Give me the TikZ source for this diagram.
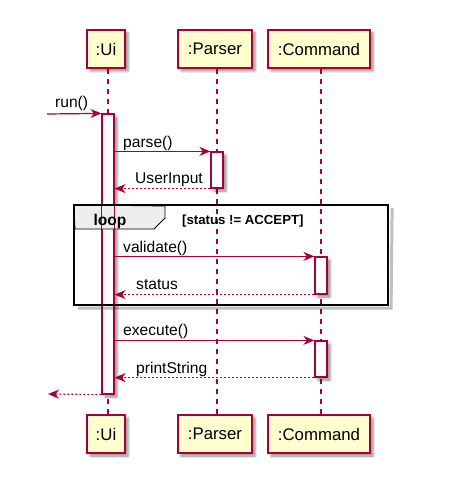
\documentclass[tikz,border=0pt]{standalone}
\usepackage{fontspec}
\setmainfont{Liberation Sans}
\usetikzlibrary{arrows.meta,shadows.blur}
\definecolor{pred}{HTML}{A80036}
\definecolor{pfill}{HTML}{FEFECE}
\definecolor{tabgray}{HTML}{EEEEEE}
\tikzset{
  shad/.style={blur shadow={shadow xshift=3pt,shadow yshift=-3pt,shadow blur radius=2.5pt,shadow opacity=45}},
  part/.style={draw=pred,line width=1.6pt,fill=pfill,shad,minimum height=38pt,inner sep=0pt,font=\fontsize{16.8}{18}\selectfont,text=black},
  actbox/.style={draw=pred,line width=1.2pt,fill=white,shad,minimum width=12pt,inner sep=0pt},
  lifeline/.style={draw=pred,line width=1.2pt,dash pattern=on 5pt off 5pt},
  msg/.style={draw=pred,line width=1.2pt,-{Stealth[length=11pt,width=9pt,inset=3.5pt]}},
  ret/.style={msg,dash pattern=on 2pt off 2pt},
  lbl/.style={font=\fontsize{15.6}{17}\selectfont,inner sep=0pt,anchor=base west,text=black},
}
\begin{document}
\begin{tikzpicture}[x=1pt,y=-1pt]
\useasboundingbox (0,0) rectangle (464,478);
% participants
\node[part,minimum width=38pt] (uiT) at (106,49) {:Ui};
\node[part,minimum width=74pt] (pT) at (215,49) {:Parser};
\node[part,minimum width=102pt] (cT) at (319,49) {:Command};
\node[part,minimum width=38pt] (uiB) at (106,434) {:Ui};
\node[part,minimum width=74pt] (pB) at (215,434) {:Parser};
\node[part,minimum width=102pt] (cB) at (319,434) {:Command};
% lifelines
\draw[lifeline] ([xshift=2pt]uiT.south) -- ([xshift=2pt]uiB.north);
\draw[lifeline] ([xshift=2pt]pT.south) -- ([xshift=2pt]pB.north);
\draw[lifeline] ([xshift=2pt]cT.south) -- ([xshift=2pt]cB.north);
% activations
\node[actbox,minimum height=280pt] (actUi) at (108,254) {};
\node[actbox,minimum height=36pt] (actP) at (217,170) {};
\node[actbox,minimum height=37pt] (actC1) at (321,275.5) {};
\node[actbox,minimum height=36pt] (actC2) at (321,359) {};
% loop frame
\node[line width=2.2pt,minimum width=312pt,minimum height=98pt,inner sep=0pt] (loopframe) at (231,255) {};
\draw[black,opacity=0.25,line width=3pt] ([shift={(4pt,-3pt)}]loopframe.north east) -- ([shift={(3pt,-3pt)}]loopframe.south east) -- ([shift={(4pt,-3pt)}]loopframe.south west);
\filldraw[draw=black,line width=0.8pt,fill=tabgray] (loopframe.north west) -- (165,206) -- (165,218) -- (154,229) -- (75,229) -- cycle;
\draw[pred,line width=1.2pt] (actUi.north west) rectangle (actUi.south east);
\draw[line width=2.2pt] (loopframe.north west) rectangle (loopframe.south east);
\node[font=\bfseries\fontsize{15.6}{17}\selectfont,anchor=base,inner sep=0pt] (looplbl) at (110,225) {loop};
\node[font=\bfseries\fontsize{13.2}{15}\selectfont,anchor=base west,inner sep=0pt] (cond) at (182,224) {[status != ACCEPT]};
% messages
\coordinate (runStart) at (47,114);
\coordinate (endL) at (48,394);
\draw[msg] (runStart) -- (actUi.north west);
\node[lbl] (runL) at (55,108) {run()};
\draw[msg] (actP.north west -| actUi.east) -- (actP.north west);
\node[lbl] (parseL) at (123,148) {parse()};
\draw[ret] (actP.south west) -- (actP.south west -| actUi.east);
\node[lbl] (uiL) at (135,183) {UserInput};
\draw[msg] (actC1.north west -| actUi.east) -- (actC1.north west);
\node[lbl] (valL) at (123,252) {validate()};
\draw[ret] (actC1.south west) -- (actC1.south west -| actUi.east);
\node[lbl] (stL) at (136,289) {status};
\draw[msg] (actC2.north west -| actUi.east) -- (actC2.north west);
\node[lbl] (exL) at (123,335) {execute()};
\draw[ret] (actC2.south west) -- (actC2.south west -| actUi.east);
\node[lbl] (psL) at (136,373) {printString};
\draw[ret] (actUi.south west) -- (endL);
\end{tikzpicture}
\end{document}
